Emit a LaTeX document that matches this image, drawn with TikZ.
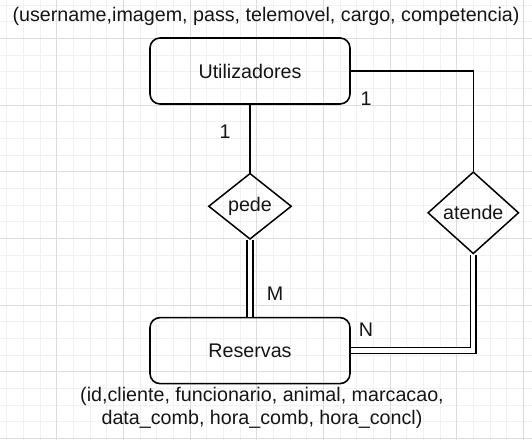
\documentclass[tikz,border=0pt]{standalone}
\usepackage{fontspec}
\setmainfont{Liberation Sans}
\usetikzlibrary{positioning,shapes.geometric}
\definecolor{gridminor}{HTML}{F1F1F1}
\definecolor{gridmajor}{HTML}{DCDCDC}
\definecolor{ink}{HTML}{151515}
\tikzset{
  x=1pt, y=-1pt,
  every node/.style={font=\fontsize{19.7}{23.5}\selectfont, text=ink},
  entity/.style={draw, line width=1.6pt, rounded corners=10pt,
    minimum width=200pt, minimum height=66pt, inner sep=0pt},
  relation/.style={draw, diamond, line width=1.5pt, inner sep=0pt},
  link/.style={line width=1.6pt},
  dlink/.style={line width=1.4pt, double, double distance=4.3pt},
  minorgrid/.style={gridminor, line width=0.8pt},
  majorgrid/.style={gridmajor, line width=0.8pt},
  card/.style={inner sep=0pt},
}

\begin{document}
\begin{tikzpicture}
  \useasboundingbox (0,0) rectangle (532,440);

  % Grid
  \foreach \i in {0,...,31}
    \draw[minorgrid] ({6.667+16.667*\i},0) -- ({6.667+16.667*\i},440);
  \foreach \j in {0,...,26}
    \draw[minorgrid] (0,{5+16.667*\j}) -- (532,{5+16.667*\j});
  \foreach \i in {0,...,7}
    \draw[majorgrid] ({56.667+66.667*\i},0) -- ({56.667+66.667*\i},440);
  \foreach \j in {0,...,6}
    \draw[majorgrid] (0,{38.333+66.667*\j}) -- (532,{38.333+66.667*\j});

  % Entities
  \node[entity] (util) at (250,71) {Utilizadores};
  \node[entity, below=212pt of util] (res) {Reservas};

  % Relations
  \node[relation, minimum width=83pt, minimum height=66pt, below=67.7pt of util] (pede) {pede};
  \node[relation, minimum width=91pt, minimum height=82pt] (atende) at (473.3,212.8) {atende};

  % Attributes
  \node (attrU) at (266,16) {(username,imagem, pass, telemovel, cargo, competencia)};
  \node[align=center] (attrR) at (262,408)
    {(id,cliente, funcionario, animal, marcacao,\\data\_comb, hora\_comb, hora\_concl)};

  % Links
  \draw[link] (util) -- (pede);
  \draw[dlink] (pede) -- (res);
  \draw[link] (util.east) -| (atende.north);
  \draw[dlink] (atende.south) |- (res.east);

  % Cardinalities
  \node[card] (c1) at (225,131.7) {1};
  \node[card] (c2) at (366,98.3) {1};
  \node[card] (cM) at (275,293.3) {M};
  \node[card] (cN) at (366,330) {N};
\end{tikzpicture}
\end{document}
